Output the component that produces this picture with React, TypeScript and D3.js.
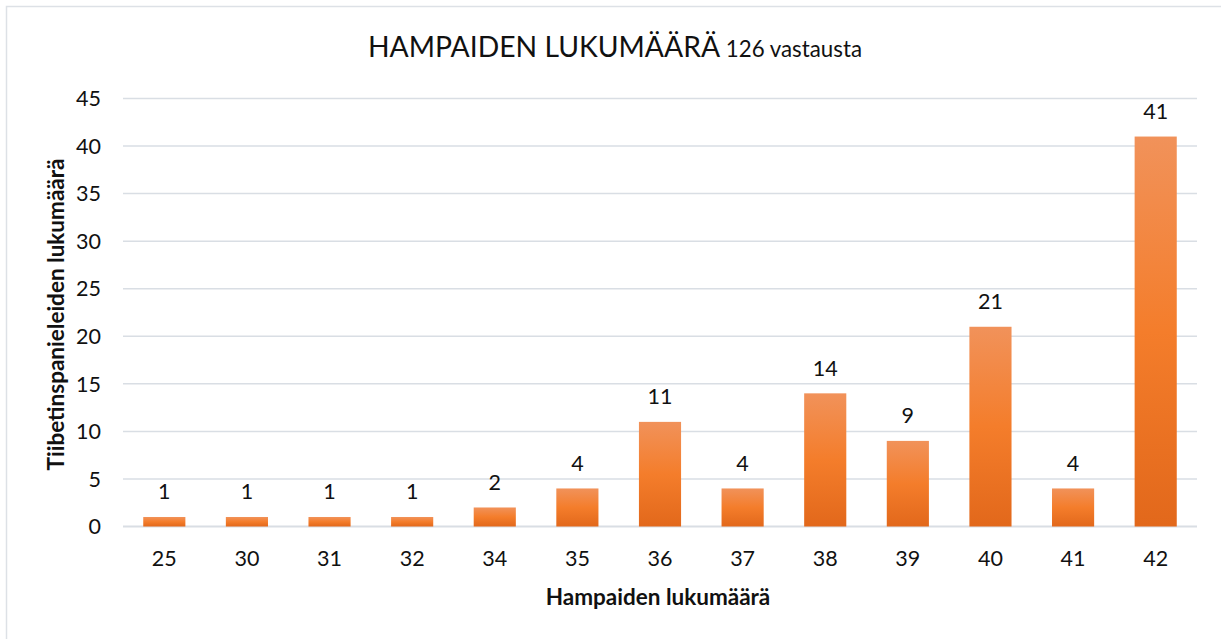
import React from "react";
import * as d3 from "d3";

const categories = ["25", "30", "31", "32", "34", "35", "36", "37", "38", "39", "40", "41", "42"];
const counts = [1, 1, 1, 1, 2, 4, 11, 4, 14, 9, 21, 4, 41];
const yTicks = [0, 5, 10, 15, 20, 25, 30, 35, 40, 45];
const titleMain = "HAMPAIDEN LUKUMÄÄRÄ";
const titleSub = "126 vastausta";
const xTitle = "Hampaiden lukumäärä";
const yTitle = "Tiibetinspanieleiden lukumäärä";

const W = 1221;
const H = 639;
const left = 123;
const right = 1197;
const top = 98.5;
const bottom = 526.5;
const FONT = "Lato, 'Open Sans', sans-serif";

export default function App() {
  const x = d3.scaleBand<string>().domain(categories).range([left, right]).paddingInner(0.49).paddingOuter(0.245);
  const y = d3.scaleLinear().domain([0, 45]).range([bottom, top]);

  return (
    <div style={{ position: "fixed", left: 0, top: 0 }}>
      <svg width={W} height={H} style={{ display: "block", background: "#fff" }}>
        <defs>
          <linearGradient id="barGrad" x1="0" y1="0" x2="0" y2="1">
            <stop offset="0%" stopColor="#F1925A" />
            <stop offset="50%" stopColor="#F47D2B" />
            <stop offset="100%" stopColor="#E2681B" />
          </linearGradient>
        </defs>
        <rect x={6.5} y={6.5} width={W} height={H} fill="none" stroke="#dde1e6" strokeWidth={1.5} />
        <text x={368} y={57} fontFamily={FONT} fill="#111">
          <tspan fontSize={28.3}>{titleMain}</tspan>
          <tspan fontSize={22.3}> {titleSub}</tspan>
        </text>
        {yTicks.map((t) => (
          <g key={t}>
            <line x1={left} x2={right} y1={y(t)} y2={y(t)} stroke="#d9dee4" strokeWidth={t === 0 ? 2 : 1.5} />
            <text x={101} y={y(t)} dy="0.36em" textAnchor="end" fontFamily={FONT} fontSize={21.5} fill="#111">
              {t}
            </text>
          </g>
        ))}
        {categories.map((c, i) => {
          const v = counts[i];
          const bx = x(c)!;
          const bw = x.bandwidth();
          return (
            <g key={c}>
              <rect x={bx} y={y(v)} width={bw} height={y(0) - y(v)} fill="url(#barGrad)" />
              <text x={bx + bw / 2} y={y(v) - 17.5} textAnchor="middle" fontFamily={FONT} fontSize={21.5} fill="#111">
                {v}
              </text>
              <text x={bx + bw / 2} y={566} textAnchor="middle" fontFamily={FONT} fontSize={21.5} fill="#111">
                {c}
              </text>
            </g>
          );
        })}
        <text x={(left + right) / 2 - 2} y={605} textAnchor="middle" fontFamily={FONT} fontSize={22.5} fontWeight="bold" fill="#111">
          {xTitle}
        </text>
        <text
          transform={`translate(64, ${(top + bottom) / 2 + 2}) rotate(-90)`}
          textAnchor="middle"
          fontFamily={FONT}
          fontSize={22.5}
          fontWeight="bold"
          fill="#111"
        >
          {yTitle}
        </text>
      </svg>
    </div>
  );
}
